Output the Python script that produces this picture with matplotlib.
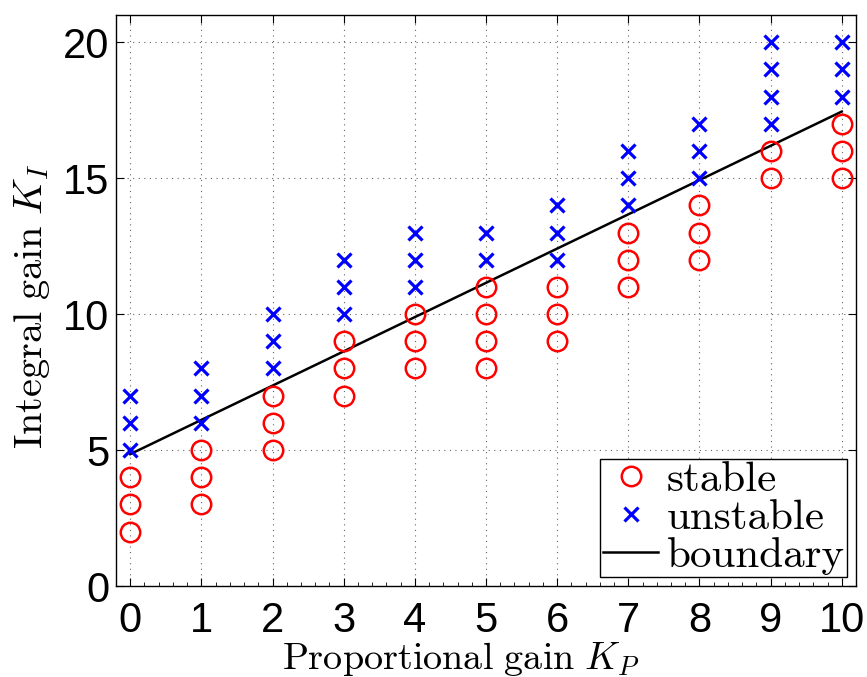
import matplotlib
matplotlib.use("Agg")
import matplotlib.pyplot as plt
import numpy as np

plt.rcParams["mathtext.fontset"] = "cm"
plt.rcParams["font.family"] = ["Liberation Sans", "DejaVu Sans"]

# Stability test results on the (K_P, K_I) grid
kp_values = [0, 1, 2, 3, 4, 5, 6, 7, 8, 9, 10]
stable_ki = [
    [2, 3, 4],
    [3, 4, 5],
    [5, 6, 7],
    [7, 8, 9],
    [8, 9, 10],
    [8, 9, 10, 11],
    [9, 10, 11],
    [11, 12, 13],
    [12, 13, 14],
    [15, 16],
    [15, 16, 17],
]
unstable_ki = [
    [5, 6, 7],
    [6, 7, 8],
    [8, 9, 10],
    [10, 11, 12],
    [11, 12, 13],
    [12, 13],
    [12, 13, 14],
    [14, 15, 16],
    [15, 16, 17],
    [17, 18, 19, 20],
    [18, 19, 20],
]
boundary_kp = [0, 10]
boundary_ki = [4.85, 17.45]

xticks = [0, 1, 2, 3, 4, 5, 6, 7, 8, 9, 10]
yticks = [0, 5, 10, 15, 20]

stable_x = [kp for kp, ks in zip(kp_values, stable_ki) for _ in ks]
stable_y = [k for ks in stable_ki for k in ks]
unstable_x = [kp for kp, ks in zip(kp_values, unstable_ki) for _ in ks]
unstable_y = [k for ks in unstable_ki for k in ks]

fig = plt.figure(figsize=(8.67, 6.77), dpi=100)
ax = fig.add_axes([0.1338, 0.1344, 0.8535, 0.8434])

ax.plot(stable_x, stable_y, linestyle="none", marker="o", markersize=14,
        markerfacecolor="none", markeredgecolor="#ff0000", markeredgewidth=1.8,
        label="stable", zorder=3)
ax.plot(unstable_x, unstable_y, linestyle="none", marker="x", markersize=10,
        color="#0000ff", markeredgewidth=2.3, label="unstable", zorder=3)
ax.plot(boundary_kp, boundary_ki, color="black", linewidth=1.8,
        label="boundary", zorder=2)

ax.set_xlim(-0.2, 10.2)
ax.set_ylim(0, 21)
ax.set_xticks(xticks)
ax.set_yticks(yticks)
ax.tick_params(axis="both", which="major", direction="in", top=True, right=True,
               labelsize=30, length=6, width=0.8)
ax.tick_params(axis="x", which="major", pad=11)
ax.tick_params(axis="y", which="major", pad=5)
ax.set_xticks(np.arange(-0.2, 10.21, 0.2), minor=True)
ax.tick_params(axis="x", which="minor", direction="in", top=False, bottom=True,
               length=3, width=0.6)
ax.tick_params(axis="y", which="minor", left=False, right=False)

ax.grid(True, which="major", linestyle=(0, (1, 4)), color="#666666", linewidth=0.8)
for s in ax.spines.values():
    s.set_linewidth(1.0)

ax.set_xlabel(r"$\mathrm{Proportional\ gain}\ K_P$", fontsize=27.5, va="baseline")
ax.xaxis.set_label_coords(0.466, -0.145)
ax.set_ylabel(r"$\mathrm{Integral\ gain}\ K_I$", fontsize=29)
ax.yaxis.set_label_coords(-0.086, 0.49)

leg = ax.legend(loc="lower right", prop={"family": "cmr10", "size": 31},
                fancybox=False, edgecolor="black", framealpha=1,
                borderpad=0.05, labelspacing=0.0, handlelength=1.3,
                handletextpad=0.2, borderaxespad=0.2)
leg.get_frame().set_linewidth(1.0)

fig.savefig("out.png", dpi=100)
